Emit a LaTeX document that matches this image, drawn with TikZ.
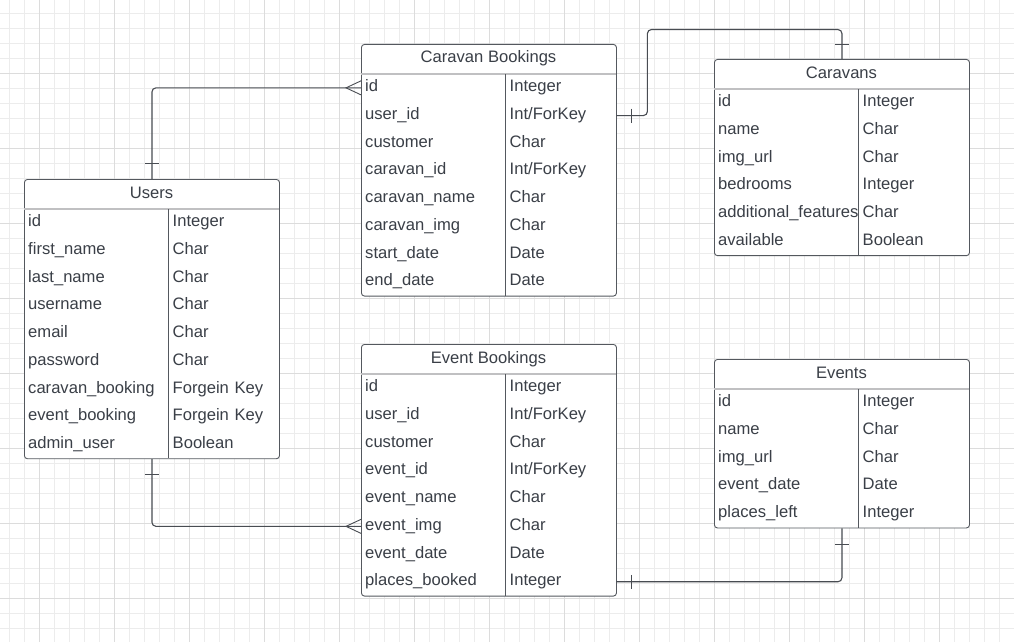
\documentclass[tikz,border=0pt]{standalone}
\usepackage{fontspec}
\setmainfont{Liberation Sans}

\definecolor{inkgrey}{RGB}{58,63,71}
\definecolor{boxline}{RGB}{84,88,94}
\definecolor{rulegrey}{RGB}{192,192,194}
\definecolor{linkgrey}{RGB}{72,76,82}
\definecolor{gridminor}{RGB}{236,236,236}
\definecolor{gridmajor}{RGB}{220,220,220}

\newcommand{\erfont}{\fontsize{16.6}{19}\selectfont}
\newcommand{\intfk}{Int/ForKey}

\tikzset{
    tablebox/.style={draw=boxline, fill=white, line width=0.9pt, rounded corners=3pt,
        anchor=north west, minimum width=255pt, inner sep=0pt},
    tabletitle/.style={text=inkgrey, font=\erfont, inner sep=0pt,
        text height=12pt, text depth=4pt},
    fieldname/.style={anchor=west, inner xsep=4pt, inner ysep=0pt, text=inkgrey, font=\erfont,
        text height=12pt, text depth=4pt},
    fieldtype/.style={fieldname, inner xsep=4.5pt, text width=102pt, align=left},
    titlerule/.style={draw=rulegrey, line width=1.6pt},
    colrule/.style={draw=boxline, line width=0.9pt},
    relation/.style={draw=linkgrey, line width=1.1pt, rounded corners=4pt},
    relbar/.style={draw=linkgrey, line width=0.9pt},
}

\begin{document}
\begin{tikzpicture}[x=1pt, y=-1pt]
    \useasboundingbox[fill=white] (0,0) rectangle (1014,642);

    % grid
    \foreach \x in {9.5,24.5,...,1012}
        \draw[gridminor, line width=0.8pt] (\x,0) -- (\x,642);
    \foreach \y in {13.5,28.5,...,640}
        \draw[gridminor, line width=0.8pt] (0,\y) -- (1014,\y);
    \foreach \x in {39,114,...,1014}
        \draw[gridmajor, line width=1pt] (\x,0) -- (\x,642);
    \foreach \y in {73,148,...,642}
        \draw[gridmajor, line width=1pt] (0,\y) -- (1014,\y);

    % Users
    \begin{scope}[shift={(24,179)}]
        \node[tablebox, minimum height=279.3pt] (users) at (0,0) {};
        \node[tabletitle] (users-title) at (127.5,15) {Users};
        \draw[titlerule] (0,30) -- (255,30);
        \draw[colrule] (144,30) -- (144,279.3);
        \foreach \f/\t [count=\i] in {id/Integer, first\_name/Char, last\_name/Char,
            username/Char, email/Char, password/Char, caravan\_booking/Forgein Key,
            event\_booking/Forgein Key, admin\_user/Boolean} {
            \node[fieldname] (users-\i) at (0,{30+(\i-0.5)*27.7}) {\f};
            \node[fieldtype] (users-\i-t) at (144,{30+(\i-0.5)*27.7}) {\t};
        }
    \end{scope}

    % Caravan Bookings
    \begin{scope}[shift={(361,44)}]
        \node[tablebox, minimum height=251.6pt] (cbook) at (0,0) {};
        \node[tabletitle] (cbook-title) at (127.5,15) {Caravan Bookings};
        \draw[titlerule] (0,30) -- (255,30);
        \draw[colrule] (144,30) -- (144,251.6);
        \foreach \f/\t [count=\i] in {id/Integer, user\_id/\intfk, customer/Char,
            caravan\_id/\intfk, caravan\_name/Char, caravan\_img/Char,
            start\_date/Date, end\_date/Date} {
            \node[fieldname] (cbook-\i) at (0,{30+(\i-0.5)*27.7}) {\f};
            \node[fieldtype] (cbook-\i-t) at (144,{30+(\i-0.5)*27.7}) {\t};
        }
    \end{scope}

    % Caravans
    \begin{scope}[shift={(714,59)}]
        \node[tablebox, minimum height=196.2pt] (caravans) at (0,0) {};
        \node[tabletitle] (caravans-title) at (127.5,15) {Caravans};
        \draw[titlerule] (0,30) -- (255,30);
        \draw[colrule] (144,30) -- (144,196.2);
        \foreach \f/\t [count=\i] in {id/Integer, name/Char, img\_url/Char,
            bedrooms/Integer, additional\_features/Char, available/Boolean} {
            \node[fieldname] (caravans-\i) at (0,{30+(\i-0.5)*27.7}) {\f};
            \node[fieldtype] (caravans-\i-t) at (144,{30+(\i-0.5)*27.7}) {\t};
        }
    \end{scope}

    % Event Bookings
    \begin{scope}[shift={(361,344)}]
        \node[tablebox, minimum height=251.6pt] (ebook) at (0,0) {};
        \node[tabletitle] (ebook-title) at (127.5,15) {Event Bookings};
        \draw[titlerule] (0,30) -- (255,30);
        \draw[colrule] (144,30) -- (144,251.6);
        \foreach \f/\t [count=\i] in {id/Integer, user\_id/\intfk, customer/Char,
            event\_id/\intfk, event\_name/Char, event\_img/Char,
            event\_date/Date, places\_booked/Integer} {
            \node[fieldname] (ebook-\i) at (0,{30+(\i-0.5)*27.7}) {\f};
            \node[fieldtype] (ebook-\i-t) at (144,{30+(\i-0.5)*27.7}) {\t};
        }
    \end{scope}

    % Events
    \begin{scope}[shift={(714,359)}]
        \node[tablebox, minimum height=168.5pt] (events) at (0,0) {};
        \node[tabletitle] (events-title) at (127.5,15) {Events};
        \draw[titlerule] (0,30) -- (255,30);
        \draw[colrule] (144,30) -- (144,168.5);
        \foreach \f/\t [count=\i] in {id/Integer, name/Char, img\_url/Char,
            event\_date/Date, places\_left/Integer} {
            \node[fieldname] (events-\i) at (0,{30+(\i-0.5)*27.7}) {\f};
            \node[fieldtype] (events-\i-t) at (144,{30+(\i-0.5)*27.7}) {\t};
        }
    \end{scope}

    % relations
    \draw[relation] (users.north) |- (cbook-1.west);
    \draw[relbar] (users.north) ++(-7,-16) -- ++(14,0);
    \draw[relbar] (cbook-1.west) ++(0,-7) -- ++(-15,7) -- ++(15,7);

    \draw[relation] (cbook-2-t.east) -- ++(31,0) -- ++(0,-86) -| (caravans.north);
    \draw[relbar] (cbook-2-t.east) ++(15,-7) -- ++(0,14);
    \draw[relbar] (caravans.north) ++(-7,-15) -- ++(14,0);

    \draw[relation] (users.south) |- (ebook-6.west);
    \draw[relbar] (users.south) ++(-7,15) -- ++(14,0);
    \draw[relbar] (ebook-6.west) ++(0,-7) -- ++(-15,7) -- ++(15,7);

    \draw[relation] (ebook-8-t.east) -| (events.south);
    \draw[relbar] (ebook-8-t.east) ++(15,-7) -- ++(0,14);
    \draw[relbar] (events.south) ++(-7,16) -- ++(14,0);
\end{tikzpicture}
\end{document}
